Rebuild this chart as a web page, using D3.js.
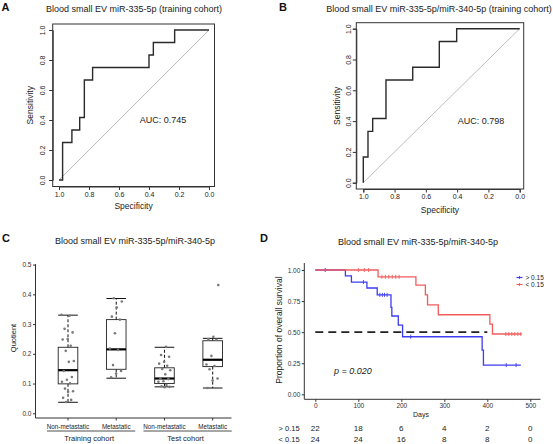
<!DOCTYPE html>
<html><head><meta charset="utf-8">
<script src="https://cdn.jsdelivr.net/npm/d3@7"></script>
<style>body{margin:0;background:#fff}svg{display:block;font-family:"Liberation Sans",Arial,Helvetica,sans-serif}</style>
</head><body><svg id="c" width="553" height="444"></svg>
<script>
// ---------- DATA ----------
// Panel A ROC (specificity, sensitivity vertices)
const rocASpec = [1.0, 0.976, 0.976, 0.914, 0.914, 0.862, 0.862, 0.831, 0.831, 0.776, 0.776, 0.400, 0.400, 0.371, 0.371, 0.229, 0.229, 0.0];
const rocASens = [0, 0, 0.25, 0.25, 0.333, 0.333, 0.417, 0.417, 0.667, 0.667, 0.75, 0.75, 0.833, 0.833, 0.917, 0.917, 1, 1];
// Panel B ROC
const rocBSpec = [1.0, 1.0, 0.970, 0.970, 0.940, 0.940, 0.855, 0.855, 0.684, 0.684, 0.514, 0.514, 0.403, 0.403, 0.0];
const rocBSens = [0, 0.167, 0.167, 0.333, 0.333, 0.417, 0.417, 0.667, 0.667, 0.75, 0.75, 0.917, 0.917, 1, 1];
const rocTicks = [0, 0.2, 0.4, 0.6, 0.8, 1.0];
const aucA = "AUC: 0.745", aucB = "AUC: 0.798";

// Panel C box plots
const boxCategories = ["Non-metastatic", "Metastatic", "Non-metastatic", "Metastatic"];
const boxGroups = ["Training cohort", "Test cohort"];
const boxGroupMembers = [[0, 1], [2, 3]];
const whiskLow  = [0.037, 0.118, 0.089, 0.085];
const q1        = [0.099, 0.148, 0.100, 0.157];
const medians   = [0.145, 0.215, 0.117, 0.180];
const q3        = [0.222, 0.315, 0.153, 0.244];
const whiskHigh = [0.330, 0.386, 0.222, 0.252];
const ptsTrainNon = [0.331, 0.328, 0.284, 0.272, 0.250, 0.248, 0.227, 0.210, 0.176, 0.173, 0.142, 0.122, 0.113, 0.106, 0.101, 0.083, 0.074, 0.072, 0.052, 0.045, 0.038];
const ptsTrainMet = [0.387, 0.376, 0.356, 0.325, 0.315, 0.269, 0.218, 0.213, 0.162, 0.142, 0.134, 0.121];
const ptsTestNon  = [0.224, 0.196, 0.190, 0.173, 0.167, 0.160, 0.149, 0.145, 0.131, 0.117, 0.115, 0.108, 0.106, 0.095, 0.091, 0.089, 0.088];
const ptsTestMet  = [0.431, 0.257, 0.250, 0.247, 0.193, 0.164, 0.159, 0.148, 0.117, 0.110, 0.085];
const boxTicks = [0, 0.1, 0.2, 0.3, 0.4, 0.5];

// Panel D Kaplan-Meier
const kmHighTimes = [0, 70, 84, 120, 144, 176, 178, 193, 203, 388, 391, 478];
const kmHighSurv  = [1.0, 0.953, 0.903, 0.855, 0.80, 0.70, 0.63, 0.557, 0.463, 0.356, 0.235, 0.235];
const kmHighCensor = [23, 112, 150, 156, 161, 167, 222, 444, 467];
const kmLowTimes = [0, 146, 234, 256, 261, 286, 406, 412, 480];
const kmLowSurv  = [1.0, 0.945, 0.879, 0.80, 0.72, 0.64, 0.565, 0.485, 0.485];
const kmLowCensor = [100, 114, 124, 155, 163, 171, 179, 187, 195, 443, 450, 457, 464, 471, 478];
const kmLabels = ["> 0.15", "< 0.15"];
const kmTicksX = [0, 100, 200, 300, 400, 500];
const kmTicksY = [0, 0.25, 0.5, 0.75, 1.0];
const riskHigh = [22, 18, 6, 4, 2, 0];
const riskLow  = [24, 24, 16, 8, 8, 0];
const medianLine = [0, 400];
const pText = "p = 0.020";

// ---------- DRAW ----------
const svg = d3.select("#c");
const dark = "#333";

function panelLetter(t, x, y) {
  svg.append("text").attr("x", x).attr("y", y).attr("font-size", 11).attr("font-weight", "bold").attr("fill", "#111").text(t);
}
function title(t, x, y) {
  svg.append("text").attr("x", x).attr("y", y).attr("text-anchor", "middle").attr("font-size", 9).attr("fill", "#222").text(t);
}

function rocPanel(o) {
  const x = d3.scaleLinear().domain([1, 0]).range(o.xr);
  const y = d3.scaleLinear().domain([0, 1]).range(o.yr);
  const g = svg.append("g");
  // box
  g.append("rect").attr("x", o.box[0]).attr("y", o.box[2]).attr("width", o.box[1] - o.box[0]).attr("height", o.box[3] - o.box[2])
    .attr("fill", "none").attr("stroke", dark).attr("stroke-width", 1);
  // diagonal
  g.append("line").attr("x1", x(1)).attr("y1", y(0)).attr("x2", x(0)).attr("y2", y(1)).attr("stroke", "#b5b5b5").attr("stroke-width", 0.9);
  // curve
  const pts = o.spec.map((s, i) => [s, o.sens[i]]);
  g.append("path").attr("d", d3.line().x(d => x(d[0])).y(d => y(d[1]))(pts)).attr("fill", "none").attr("stroke", "#2a2a2a").attr("stroke-width", 1.4);
  // axes
  const ax = g.append("g").attr("transform", `translate(0,${o.box[3]})`).call(d3.axisBottom(x).tickValues(rocTicks).tickSize(3.5).tickPadding(2).tickFormat(d3.format(".1f")));
  const ay = g.append("g").attr("transform", `translate(${o.box[0]},0)`).call(d3.axisLeft(y).tickValues(rocTicks).tickSize(3.5).tickFormat(d3.format(".1f")));
  [ax, ay].forEach(a => { a.selectAll("path").attr("stroke", dark); a.selectAll("line").attr("stroke", dark); a.selectAll("text").attr("font-size", 7).attr("fill", "#222").attr("font-family", null); });
  ay.selectAll("text").attr("x", null).attr("dy", null).attr("text-anchor", "middle")
    .attr("transform", d => `translate(${o.ylabX - o.box[0]},0) rotate(-90)`).attr("y", 0).attr("dy", "0.35em");
  ax.selectAll("text").attr("dy", "0.71em");
  g.append("text").attr("x", (o.box[0] + o.box[1]) / 2).attr("y", o.xTitleY).attr("text-anchor", "middle").attr("font-size", 8.5).attr("fill", "#222").text("Specificity");
  g.append("text").attr("transform", `translate(${o.yTitleX},${(o.box[2] + o.box[3]) / 2}) rotate(-90)`).attr("text-anchor", "middle").attr("font-size", 8.5).attr("fill", "#222").text("Sensitivity");
  g.append("text").attr("x", o.aucX).attr("y", y(0.4) + 3).attr("text-anchor", "middle").attr("font-size", 9).attr("fill", "#222").text(o.auc);
}

panelLetter("A", 1.5, 10.5);
title("Blood small EV miR-335-5p (training cohort)", 134, 11.5);
rocPanel({ spec: rocASpec, sens: rocASens, xr: [59, 209], yr: [180, 30], box: [52.7, 214.5, 24, 186.5],
  ylabX: 42.5, xTitleY: 209, yTitleX: 33, aucX: 163, auc: aucA });

panelLetter("B", 279, 10.5);
title("Blood small EV miR-335-5p/miR-340-5p (training cohort)", 439, 11.5);
rocPanel({ spec: rocBSpec, sens: rocBSens, xr: [363.3, 519.7], yr: [182.7, 28.7], box: [356.3, 523.7, 22.7, 189],
  ylabX: 348.5, xTitleY: 213, yTitleX: 339.5, aucX: 481, auc: aucB });

// ---------- Panel C ----------
panelLetter("C", 2, 241.5);
title("Blood small EV miR-335-5p/miR-340-5p", 135, 244);
{
  const y = d3.scaleLinear().domain([0, 0.5]).range([413.3, 264.6]);
  const x = d3.scalePoint().domain(d3.range(boxCategories.length)).range([68, 212.7]);
  const g = svg.append("g");
  const axX0 = 35.5, axX1 = 231.5, axY = 418;
  const ay = g.append("g").attr("transform", `translate(${axX0},0)`).call(d3.axisLeft(y).tickValues(boxTicks).tickSize(2.5).tickPadding(1.5).tickFormat(d3.format(".1f")));
  ay.select("path").remove();
  ay.selectAll("line").attr("stroke", dark);
  ay.selectAll("text").attr("font-size", 6.5).attr("fill", "#333").attr("font-family", null);
  g.append("line").attr("x1", axX0).attr("x2", axX0).attr("y1", y(0.5) - 0.5).attr("y2", axY).attr("stroke", dark).attr("stroke-width", 1);
  g.append("line").attr("x1", axX0).attr("x2", axX1).attr("y1", axY).attr("y2", axY).attr("stroke", dark).attr("stroke-width", 1);
  boxCategories.forEach((c, i) => {
    g.append("line").attr("x1", x(i)).attr("x2", x(i)).attr("y1", axY).attr("y2", axY + 2.5).attr("stroke", dark);
    g.append("text").attr("x", x(i)).attr("y", 428.5).attr("text-anchor", "middle").attr("font-size", 6.3).attr("fill", "#222").text(c);
  });
  boxGroups.forEach((gr, k) => {
    const m = boxGroupMembers[k];
    const x0 = x(m[0]) - 21, x1 = x(m[m.length - 1]) + 19;
    g.append("line").attr("x1", x0).attr("x2", x1).attr("y1", 431).attr("y2", 431).attr("stroke", "#222").attr("stroke-width", 0.8);
    g.append("text").attr("x", (x0 + x1) / 2 - 2).attr("y", 441).attr("text-anchor", "middle").attr("font-size", 7.5).attr("fill", "#222").text(gr);
  });
  g.append("text").attr("transform", `translate(15.5,338) rotate(-90)`).attr("text-anchor", "middle").attr("font-size", 7.5).attr("fill", "#222").text("Quotient");
  const bw = 19.6;
  const allPts = [ptsTrainNon, ptsTrainMet, ptsTestNon, ptsTestMet];
  boxCategories.forEach((c, i) => {
    const cx = x(i);
    // whiskers dashed
    g.append("line").attr("x1", cx).attr("x2", cx).attr("y1", y(q3[i])).attr("y2", y(whiskHigh[i])).attr("stroke", "#111").attr("stroke-width", 1).attr("stroke-dasharray", "3,2");
    g.append("line").attr("x1", cx).attr("x2", cx).attr("y1", y(q1[i])).attr("y2", y(whiskLow[i])).attr("stroke", "#111").attr("stroke-width", 1).attr("stroke-dasharray", "3,2");
    [whiskHigh[i], whiskLow[i]].forEach(v => g.append("line").attr("x1", cx - bw / 2).attr("x2", cx + bw / 2).attr("y1", y(v)).attr("y2", y(v)).attr("stroke", "#111").attr("stroke-width", 1));
    g.append("rect").attr("x", cx - bw / 2).attr("y", y(q3[i])).attr("width", bw).attr("height", y(q1[i]) - y(q3[i])).attr("fill", "none").attr("stroke", "#222").attr("stroke-width", 0.9);
    g.append("line").attr("x1", cx - bw / 2).attr("x2", cx + bw / 2).attr("y1", y(medians[i])).attr("y2", y(medians[i])).attr("stroke", "#000").attr("stroke-width", 2.2);
    // jittered points (deterministic spread)
    allPts[i].forEach((v, j) => {
      const off = (((j * 0.618034 + i * 0.31) % 1) - 0.5) * 13;
      g.append("circle").attr("cx", cx + off).attr("cy", y(v)).attr("r", 1.3).attr("fill", "#7a7a7a");
    });
  });
}

// ---------- Panel D ----------
panelLetter("D", 260, 241.5);
title("Blood small EV miR-335-5p/miR-340-5p", 418, 244.5);
{
  const x = d3.scaleLinear().domain([0, 500]).range([315.3, 530.3]);
  const y = d3.scaleLinear().domain([0, 1]).range([394.3, 270]);
  const g = svg.append("g");
  const axX = 304.3, axY = 399.3;
  const ax = g.append("g").attr("transform", `translate(0,${axY})`).call(d3.axisBottom(x).tickValues(kmTicksX).tickSize(2.5).tickPadding(1.5));
  const ay = g.append("g").attr("transform", `translate(${axX},0)`).call(d3.axisLeft(y).tickValues(kmTicksY).tickSize(2.5).tickPadding(1.5).tickFormat(d3.format(".2f")));
  [ax, ay].forEach(a => { a.select("path").remove(); a.selectAll("line").attr("stroke", dark); a.selectAll("text").attr("font-size", 6.5).attr("fill", "#333").attr("font-family", null); });
  g.append("line").attr("x1", axX).attr("x2", 540.5).attr("y1", axY).attr("y2", axY).attr("stroke", dark).attr("stroke-width", 1);
  g.append("line").attr("x1", axX).attr("x2", axX).attr("y1", 263).attr("y2", axY).attr("stroke", dark).attr("stroke-width", 1);
  g.append("text").attr("x", 421).attr("y", 416.5).attr("text-anchor", "middle").attr("font-size", 7).attr("fill", "#222").text("Days");
  g.append("text").attr("transform", `translate(281.5,330) rotate(-90)`).attr("text-anchor", "middle").attr("font-size", 8.5).attr("fill", "#222").text("Proportion of overall survival");

  // median dashed line
  g.append("line").attr("x1", x(medianLine[0])).attr("x2", x(medianLine[1])).attr("y1", y(0.5)).attr("y2", y(0.5))
    .attr("stroke", "#222").attr("stroke-width", 1.8).attr("stroke-dasharray", "8,5");

  const series = [
    { t: kmHighTimes, s: kmHighSurv, c: kmHighCensor, col: "#3c3cf2" },
    { t: kmLowTimes, s: kmLowSurv, c: kmLowCensor, col: "#f25c5c" }
  ];
  const line = d3.line().curve(d3.curveStepAfter).x(d => x(d[0])).y(d => y(d[1]));
  series.forEach(se => {
    const pts = se.t.map((t, i) => [t, se.s[i]]);
    g.append("path").attr("d", line(pts)).attr("fill", "none").attr("stroke", se.col).attr("stroke-width", 1.3);
    se.c.forEach(ct => {
      const idx = d3.bisectRight(se.t, ct) - 1;
      const sv = se.s[Math.max(0, idx)];
      const cx = x(ct), cy = y(sv);
      g.append("line").attr("x1", cx).attr("x2", cx).attr("y1", cy - 2).attr("y2", cy + 2).attr("stroke", se.col).attr("stroke-width", 0.9);
    });
  });
  // legend
  series.forEach((se, i) => {
    const ly = 277.5 + i * 7;
    g.append("line").attr("x1", 516.5).attr("x2", 522.5).attr("y1", ly).attr("y2", ly).attr("stroke", se.col).attr("stroke-width", 1.2);
    g.append("line").attr("x1", 519.5).attr("x2", 519.5).attr("y1", ly - 1.5).attr("y2", ly + 1.5).attr("stroke", se.col).attr("stroke-width", 0.9);
    g.append("text").attr("x", 525.5).attr("y", ly + 2.3).attr("font-size", 6.5).attr("fill", "#222").text(kmLabels[i]);
  });
  g.append("text").attr("x", 334).attr("y", 374).attr("font-size", 9).attr("font-style", "italic").attr("fill", "#222").text(pText);

  // risk table
  [riskHigh, riskLow].forEach((row, r) => {
    const ry = 430.5 + r * 11.5;
    g.append("text").attr("x", 278.5).attr("y", ry).attr("font-size", 7.5).attr("fill", "#222").text(kmLabels[r]);
    row.forEach((v, i) => g.append("text").attr("x", x(kmTicksX[i])).attr("y", ry).attr("text-anchor", "middle").attr("font-size", 8).attr("fill", "#222").text(v));
  });
}
</script></body></html>
